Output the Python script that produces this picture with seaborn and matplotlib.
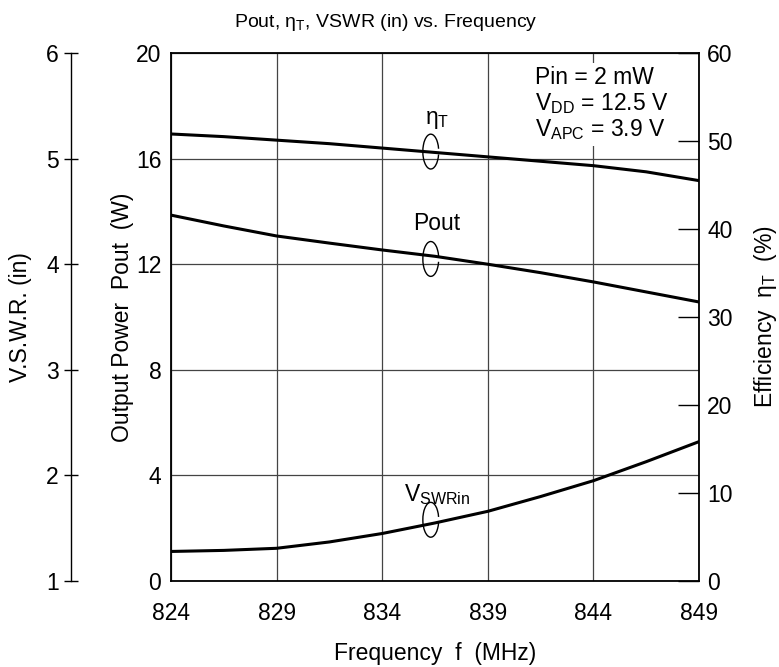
import matplotlib
matplotlib.use("Agg")
import matplotlib.pyplot as plt
import seaborn as sns
import pandas as pd
from matplotlib.patches import Arc

freq = [824, 826.5, 829, 831.5, 834, 836.5, 839, 841.5, 844, 846.5, 849]
pout_w = [13.86, 13.45, 13.07, 12.8, 12.54, 12.3, 12.0, 11.68, 11.33, 10.95, 10.57]
eta_pct = [50.8, 50.5, 50.1, 49.7, 49.2, 48.7, 48.2, 47.7, 47.2, 46.5, 45.5]
vswr_in = [1.28, 1.29, 1.31, 1.37, 1.45, 1.55, 1.66, 1.80, 1.95, 2.13, 2.32]

x_ticks = [824, 829, 834, 839, 844, 849]
pout_ticks = [0, 4, 8, 12, 16, 20]
eta_ticks = [0, 10, 20, 30, 40, 50, 60]
vswr_ticks = [1, 2, 3, 4, 5, 6]

df = pd.DataFrame({"freq": freq, "pout": pout_w, "eta": eta_pct, "vswr": vswr_in})

sns.set_theme(style="white")
plt.rcParams["font.family"] = ["Liberation Sans", "DejaVu Sans"]
plt.rcParams["mathtext.fontset"] = "custom"
plt.rcParams["mathtext.rm"] = "Liberation Sans"
plt.rcParams["mathtext.it"] = "Liberation Sans:italic"
plt.rcParams["mathtext.default"] = "rm"
plt.rcParams["text.color"] = "black"
plt.rcParams["axes.labelcolor"] = "black"
plt.rcParams["xtick.color"] = "black"
plt.rcParams["ytick.color"] = "black"

FS = 16.5
fig = plt.figure(figsize=(7.79, 6.67), dpi=100)
ax = fig.add_axes([0.2195, 0.1289, 0.6778, 0.7916])

lw = 2.2
sns.lineplot(data=df, x="freq", y="pout", ax=ax, color="black", lw=lw, zorder=3)
ax.set_xlim(824, 849)
ax.set_ylim(0, 20)
ax.set_xticks(x_ticks)
ax.set_yticks(pout_ticks)
ax.grid(True, color="#444444", lw=0.9)
for s in ax.spines.values():
    s.set_color("black")
    s.set_linewidth(1.3)
ax.tick_params(axis="x", labelsize=FS, length=0, pad=15, labelcolor="black")
ax.tick_params(axis="y", labelsize=FS, length=0, pad=7, labelcolor="black")
ax.set_xlabel("Frequency  f  (MHz)", fontsize=FS, labelpad=12, color="black")
ax.set_ylabel("Output Power  Pout  (W)", fontsize=FS, labelpad=1, color="black")

# Right efficiency axis
axr = ax.twinx()
sns.lineplot(data=df, x="freq", y="eta", ax=axr, color="black", lw=lw, zorder=3)
axr.set_ylim(0, 60)
axr.set_yticks(eta_ticks)
axr.tick_params(axis="y", direction="in", length=15, width=1.0, labelsize=FS, pad=6, colors="black")
axr.set_ylabel("Efficiency  η$_\\mathrm{T}$  (%)", fontsize=FS, labelpad=14, color="black")
for s in axr.spines.values():
    s.set_visible(False)
axr.grid(False)

# Outer VSWR axis
axv = ax.twinx()
sns.lineplot(data=df, x="freq", y="vswr", ax=axv, color="black", lw=lw, zorder=3)
axv.set_ylim(1, 6)
axv.set_yticks(vswr_ticks)
for k in ["top", "right", "bottom"]:
    axv.spines[k].set_visible(False)
axv.spines["left"].set_visible(True)
axv.spines["left"].set_position(("axes", -0.189))
axv.spines["left"].set_linewidth(1.0)
axv.spines["left"].set_color("black")
axv.yaxis.set_ticks_position("left")
axv.yaxis.set_label_position("left")
axv.tick_params(axis="y", direction="inout", length=10, width=1.0, labelsize=FS, pad=4, colors="black")
axv.set_ylabel("V.S.W.R. (in)", fontsize=FS, labelpad=10, color="black")
axv.grid(False)
axv.set_xlabel("")
axr.set_xlabel("")
axv.set_xlim(824, 849)

# Ellipse markers and curve labels
xm = 836.3
for axx, yc, lab, ly in [(axr, 48.8, "η$_\\mathrm{T}$", 52.4), (ax, 12.2, "Pout", 13.55), (axv, 1.58, "V$_\\mathrm{SWRin}$", 1.82)]:
    xa = (xm - 824) / 25
    y0, y1 = axx.get_ylim()
    ya = (yc - y0) / (y1 - y0)
    arc = Arc((xa, ya), 0.03, 0.066, theta1=20, theta2=340, transform=ax.transAxes,
              color="black", lw=1.0, zorder=5)
    ax.add_patch(arc)
    yl = (ly - y0) / (y1 - y0)
    ax.text(xa + 0.012, yl, lab, transform=ax.transAxes, ha="center", va="center", fontsize=FS, zorder=6)

# Conditions box
ax.text(0.69, 0.975, "Pin = 2 mW\nV$_\\mathrm{DD}$ = 12.5 V\nV$_\\mathrm{APC}$ = 3.9 V",
        transform=ax.transAxes, ha="left", va="top", fontsize=FS, linespacing=1.08, zorder=6,
        bbox=dict(facecolor="white", edgecolor="none", pad=3))

fig.text(0.495, 0.967, "Pout, η$_\\mathrm{T}$, VSWR (in) vs. Frequency", ha="center", va="center", fontsize=14)

fig.savefig("out.png", dpi=100)
